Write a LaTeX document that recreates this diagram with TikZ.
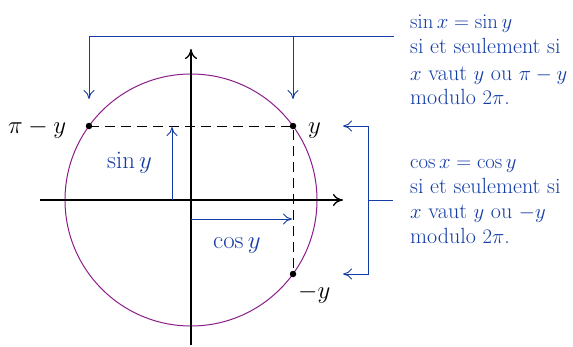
\documentclass[tikz,border=0pt]{standalone}
\usetikzlibrary{arrows.meta}
\definecolor{circ}{RGB}{140,30,140}
\definecolor{bl}{RGB}{20,60,165}
\begin{document}
\begin{tikzpicture}[x=1pt,y=-1pt,
  big/.style={font=\fontsize{32}{34}\selectfont, inner sep=0pt, anchor=base west},
  txt/.style={font=\fontsize{22}{25}\selectfont, text=bl, inner sep=0pt, anchor=base west},
  dot/.style={circle, fill=black, inner sep=0pt, minimum size=6.5pt},
  axis/.style={draw=black, line width=1.3pt, -{To[length=10pt,width=12pt]}},
  blarrow/.style={draw=bl, line width=0.9pt, -{To[length=9pt,width=11pt]}},
  blline/.style={draw=bl, line width=0.9pt},
  dsh/.style={draw=black, line width=0.9pt, dash pattern=on 10pt off 6pt}]
\useasboundingbox (0,0) rectangle (573,346);
\coordinate (O) at (191,200);
\draw[circ, line width=1pt] (O) circle[radius=126pt];
% axes
\coordinate (xa) at (40,200);
\coordinate (xb) at (343,200);
\coordinate (ya) at (191,345);
\coordinate (yb) at (191,49);
\draw[axis] (xa) -- (xb);
\draw[axis] (ya) -- (yb);
% points
\node[dot] (P) at (293,126) {};
\node[dot] (Q) at (89,126) {};
\node[dot] (R) at (293,274) {};
\draw[dsh] (Q.center) -- (P.center) -- (R.center);
% labels
\node[big] (ly) at (308,133) {$y$};
\node[big] (lq) at (8,133) {$\pi-y$};
\node[big] (lr) at (298,298) {$-y$};
\node[big, text=bl] (ls) at (107,168) {$\sin y$};
\node[big, text=bl] (lc) at (213,248) {$\cos y$};
% sin and cos arrows
\coordinate (s0) at (172,200);
\coordinate (s1) at (172,127);
\draw[blarrow] (s0) -- (s1);
\coordinate (c0) at (191,219);
\coordinate (c1) at (292,219);
\draw[blarrow] (c0) -- (c1);
% top bracket
\coordinate (t0) at (394,36);
\coordinate (t1) at (89,99);
\coordinate (t2) at (293,36);
\coordinate (t3) at (293,99);
\draw[blarrow] (t0) -| (t1);
\draw[blarrow] (t2) -- (t3);
% right bracket
\coordinate (b0) at (368,200);
\coordinate (b1) at (393,200);
\coordinate (bt) at (343,126);
\coordinate (bb) at (343,274);
\draw[blarrow] (b0) |- (bt);
\draw[blarrow] (b0) |- (bb);
\draw[blline] (b0) -- (b1);
% texts
\node[txt] (a1) at (410,28) {$\sin x=\sin y$};
\node[txt] (a2) at (410,53) {si et seulement si};
\node[txt] (a3) at (410,80) {$x$ vaut $y$ ou $\pi-y$};
\node[txt] (a4) at (410,104) {modulo $2\pi$.};
\node[txt] (d1) at (410,168) {$\cos x=\cos y$};
\node[txt] (d2) at (410,193) {si et seulement si};
\node[txt] (d3) at (410,218) {$x$ vaut $y$ ou $-y$};
\node[txt] (d4) at (410,243) {modulo $2\pi$.};
\end{tikzpicture}
\end{document}
